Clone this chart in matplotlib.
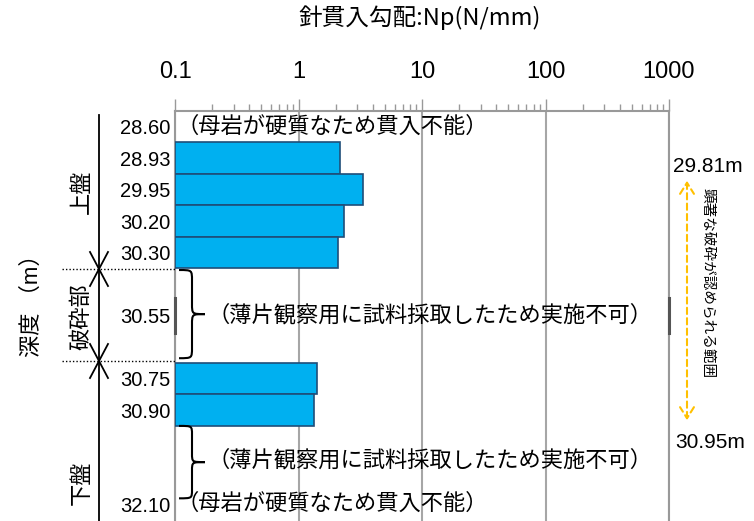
import numpy as np
import matplotlib
matplotlib.use("Agg")
import matplotlib.pyplot as plt
import matplotlib.transforms as mtransforms
from matplotlib.path import Path
from matplotlib.patches import PathPatch, FancyArrowPatch
from matplotlib.ticker import NullFormatter, LogLocator

plt.rcParams['font.family'] = ['Liberation Sans', 'Noto Sans CJK JP', 'DejaVu Sans']

# Rows (blank labels = spacer rows)
depth_labels = ["28.60", "28.93", "29.95", "30.20", "30.30", "", "30.55", "",
                "30.75", "30.90", "", "", "32.10"]
np_values = [np.nan, 2.17, 3.31, 2.33, 2.09, np.nan, np.nan, np.nan,
             1.40, 1.34, np.nan, np.nan, np.nan]
x_ticks = [0.1, 1, 10, 100, 1000]
x_tick_labels = ["0.1", "1", "10", "100", "1000"]

note_hard = "（母岩が硬質なため貫入不能）"
note_thin = "（薄片観察用に試料採取したため実施不可）"
zone_labels = ["上盤", "破砕部", "下盤"]
range_top, range_bot = "29.81m", "30.95m"

W, H = 754, 521
fig = plt.figure(figsize=(W / 100, H / 100), dpi=100)
ax = fig.add_axes([175 / W, 0, (669 - 175) / W, 1 - 111 / H])

y = np.arange(len(depth_labels))
vals = np.array(np_values)
mask = ~np.isnan(vals)
ax.barh(y[mask], vals[mask] - 0.1, left=0.1, height=1.0,
        color='#00B0F0', edgecolor='#1F4E79', linewidth=1.2, zorder=3)

ax.set_xscale('log')
ax.set_xlim(0.1, 1000)
ax.set_ylim(12.52, -0.5)
ax.set_xticks(x_ticks)
ax.set_xticklabels(x_tick_labels)
ax.xaxis.set_minor_locator(LogLocator(base=10, subs=np.arange(2, 10)))
ax.xaxis.set_minor_formatter(NullFormatter())
ax.xaxis.tick_top()
ax.tick_params(axis='x', which='major', direction='out', length=9, width=1,
               color='#999999', labelsize=17, pad=11)
ax.tick_params(axis='x', which='minor', direction='out', length=5, width=1,
               color='#999999')
ax.set_yticks(y)
ax.set_yticklabels(depth_labels, fontsize=14.5)
ax.tick_params(axis='y', length=0, pad=3)
ax.grid(axis='x', which='major', color='#A6A6A6', linewidth=1.5, zorder=0)
for side in ['top', 'left', 'right']:
    ax.spines[side].set_color('#999999')
    ax.spines[side].set_linewidth(1.5)
ax.spines['bottom'].set_visible(False)

# dark marks on spines at the fracture zone row
ax.plot([0.1, 0.1], [5.45, 6.55], color='#555555', lw=2.2, zorder=4, clip_on=False)
ax.plot([1000, 1000], [5.45, 6.55], color='#555555', lw=2.2, zorder=4, clip_on=False)

# notes inside plot
ax.text(0.102, 0, note_hard, va='center', ha='left', fontsize=16, zorder=5)
ax.text(0.102, 12, note_hard, va='center', ha='left', fontsize=16, zorder=5)
ax.text(0.183, 6, note_thin, va='center', ha='left', fontsize=16, zorder=5)
ax.text(0.183, 10.6, note_thin, va='center', ha='left', fontsize=16, zorder=5)

# braces: x in figure fraction, y in data
bt = mtransforms.blended_transform_factory(fig.transFigure, ax.transData)


def brace(x0, w, y1, y2):
    xm, xt, ym = x0 + w * 0.5, x0 + w, (y1 + y2) / 2
    d = (y2 - y1) * 0.12
    verts = [(x0, y1), (xm, y1), (xm, y1), (xm, y1 + d),
             (xm, ym - d), (xm, ym), (xm, ym), (xt, ym),
             (xm, ym), (xm, ym), (xm, ym + d),
             (xm, y2 - d), (xm, y2), (xm, y2), (x0, y2)]
    codes = [Path.MOVETO, Path.CURVE4, Path.CURVE4, Path.CURVE4,
             Path.LINETO, Path.CURVE4, Path.CURVE4, Path.CURVE4,
             Path.CURVE4, Path.CURVE4, Path.CURVE4,
             Path.LINETO, Path.CURVE4, Path.CURVE4, Path.CURVE4]
    fig.add_artist(PathPatch(Path(verts, codes), transform=bt, fill=False,
                             edgecolor='black', lw=1.5))


brace(179 / W, 26 / W, 4.55, 7.35)
brace(179 / W, 26 / W, 9.5, 11.8)

# pixel transform for left/right annotations
pix = mtransforms.Affine2D().scale(1 / W, -1 / H).translate(0, 1) + fig.transFigure


def pline(xs, ys, **kw):
    fig.add_artist(plt.Line2D(xs, ys, transform=pix, **kw))


pline([99, 99], [115, 521], color='black', lw=1.3)
for yb in [269, 361]:
    pline([90, 99, 108], [yb - 17, yb, yb - 17], color='black', lw=1.3)
    pline([90, 99, 108], [yb + 17, yb, yb + 17], color='black', lw=1.3)
    pline([62, 175], [yb, yb], color='black', lw=1, ls=(0, (1, 1.5)))

for lab, yc in zip(zone_labels, [192, 317, 483]):
    fig.text(82 / W, 1 - yc / H, lab, rotation=90, ha='center', va='center', fontsize=16)
fig.text(32 / W, 1 - 300 / H, "深度 （m）", rotation=90, ha='center', va='center', fontsize=16)

fig.text(420 / W, 1 - 18 / H, "針貫入勾配:Np(N/mm)", ha='center', va='center', fontsize=17,
         family=['Noto Sans CJK JP'])

# right side range annotation
fig.text(708 / W, 1 - 166 / H, range_top, ha='center', va='center', fontsize=15)
fig.text(710 / W, 1 - 442 / H, range_bot, ha='center', va='center', fontsize=15)
fig.add_artist(FancyArrowPatch((687, 178), (687, 423), transform=pix,
                               arrowstyle='<->,head_length=8,head_width=5',
                               color='#FFC000', lw=1.5, linestyle=(0, (3, 2)),
                               mutation_scale=1))
fig.text(708 / W, 1 - 283 / H, "顕著な破砕が認められる範囲", rotation=-90,
         ha='center', va='center', fontsize=10.5)

fig.savefig("out.png", dpi=100)
